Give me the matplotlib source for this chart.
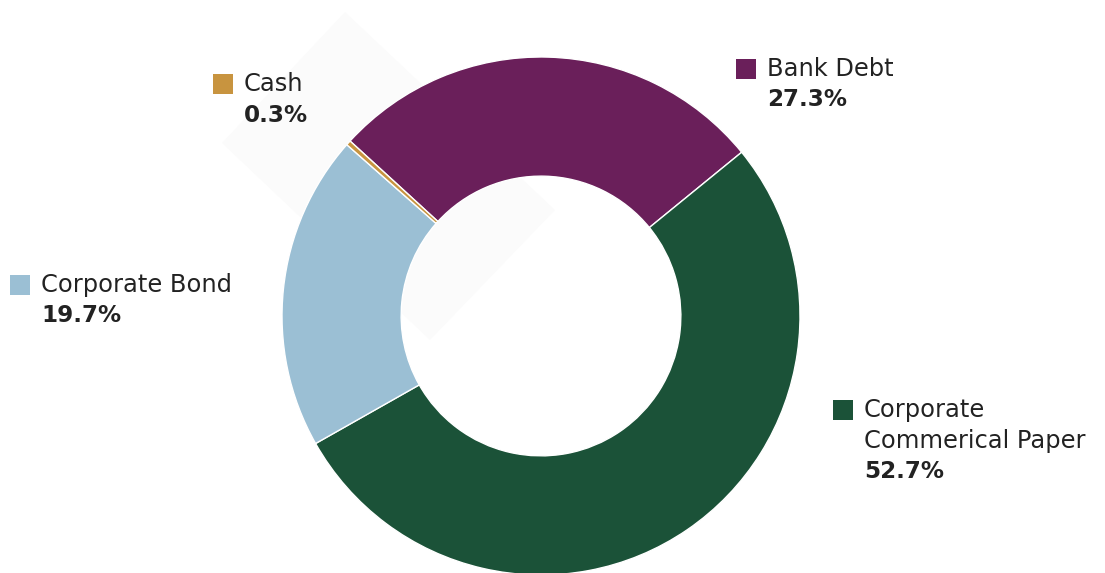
import matplotlib
matplotlib.use("Agg")
import matplotlib.pyplot as plt
from matplotlib.patches import Rectangle, Polygon

# ===== data =====
labels = ["Bank Debt", "Corporate\nCommerical Paper", "Corporate Bond", "Cash"]
shares = [27.3, 52.7, 19.7, 0.3]
colors = ["#6a1f5a", "#1b5238", "#9bbfd4", "#c8943f"]

W, H = 1105, 573
plt.rcParams["font.family"] = ["DejaVu Sans"]

fig = plt.figure(figsize=(W / 100, H / 100), dpi=100)

# donut axes, centre (541, 316) px, radius 259 px
cx, cy, r = 541, 316, 259
ax = fig.add_axes([(cx - r) / W, (H - cy - r) / H, 2 * r / W, 2 * r / H])
ax.pie(shares, colors=colors, startangle=137.5, counterclock=False,
       radius=1.0, wedgeprops=dict(width=0.46, edgecolor="white", linewidth=1))
ax.set_xlim(-1, 1)
ax.set_ylim(-1, 1)
ax.set_aspect("equal")
ax.axis("off")

# faint hover highlight behind the top-left of the ring
hl = Polygon([(345 / W, 1 - 12 / H), (555 / W, 1 - 210 / H),
              (430 / W, 1 - 340 / H), (222 / W, 1 - 143 / H)],
             closed=True, transform=fig.transFigure, facecolor="#fbfbfb",
             edgecolor="none", zorder=-1)
fig.patches.append(hl)


def px(x, y):
    return x / W, 1 - y / H


def label(sq_x, sq_y, name, value, line=31):
    # colour square and the two/three text lines next to it
    fig.patches.append(Rectangle(px(sq_x, sq_y + 20), 20 / W, 20 / H,
                                 transform=fig.transFigure,
                                 facecolor=value[1], edgecolor="none"))
    tx = sq_x + 31
    lines = name.split("\n")
    y = sq_y + 10
    for ln in lines:
        fig.text(*px(tx, y), ln, fontsize=17.4, color="#222222",
                 ha="left", va="center")
        y += line
    fig.text(*px(tx, y), f"{value[0]:.1f}%", fontsize=16.6, color="#222222",
             fontweight="bold", ha="left", va="center")


positions = [(736, 59), (833, 400), (10, 275), (213, 74)]
for (sx, sy), name, val, col in zip(positions, labels, shares, colors):
    label(sx, sy, name, (val, col))

fig.savefig("out.png", dpi=100, facecolor="white")
